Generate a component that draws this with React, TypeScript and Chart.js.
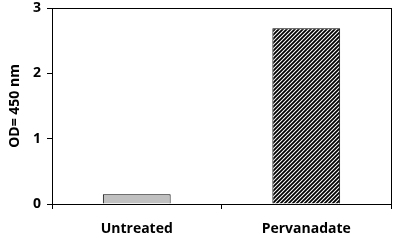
import React, { useEffect, useRef } from "react";
import { Chart, registerables } from "chart.js";

Chart.register(...registerables);

const categories = ["Untreated", "Pervanadate"];
const values = [0.15, 2.69];
const yTicks = [0, 1, 2, 3];

function makeHatch(): CanvasPattern | string {
  const c = document.createElement("canvas");
  c.width = 4;
  c.height = 4;
  const ctx = c.getContext("2d");
  if (!ctx) return "#000";
  ctx.fillStyle = "#fff";
  ctx.fillRect(0, 0, 4, 4);
  ctx.strokeStyle = "#000";
  ctx.lineWidth = 1.8;
  ctx.beginPath();
  ctx.moveTo(-1, 5);
  ctx.lineTo(5, -1);
  ctx.moveTo(-1, 1);
  ctx.lineTo(1, -1);
  ctx.moveTo(3, 5);
  ctx.lineTo(5, 3);
  ctx.stroke();
  const p = ctx.createPattern(c, "repeat");
  return p || "#000";
}

const frame = {
  id: "frame",
  afterDraw(chart: any) {
    const { ctx, chartArea } = chart;
    ctx.save();
    ctx.strokeStyle = "#000";
    ctx.lineWidth = 1;
    ctx.strokeRect(
      Math.round(chartArea.left) + 0.5,
      Math.round(chartArea.top) + 0.5,
      Math.round(chartArea.right - chartArea.left),
      Math.round(chartArea.bottom - chartArea.top)
    );
    ctx.restore();
  },
};

export default function App() {
  const ref = useRef<HTMLCanvasElement>(null);
  useEffect(() => {
    document.body.style.margin = "0";
    const hatch = makeHatch();
    const family = "'Open Sans', Lato, sans-serif";
    const font = { family, size: 14, weight: "bold" as const };
    const chart = new Chart(ref.current!, {
      type: "bar",
      data: {
        labels: categories,
        datasets: [
          {
            data: values,
            backgroundColor: ["#c0c0c0", hatch as any],
            borderColor: "#000",
            borderWidth: 1,
            barPercentage: 0.4,
            categoryPercentage: 1,
          },
        ],
      },
      options: {
        animation: false,
        responsive: false,
        maintainAspectRatio: false,
        layout: { padding: { top: 8, right: 9, left: 0, bottom: 0 } },
        plugins: { legend: { display: false }, tooltip: { enabled: false } },
        scales: {
          x: {
            offset: true,
            grid: { offset: true, drawOnChartArea: false, drawTicks: true, tickLength: 5, color: "#000" },
            border: { color: "#000", width: 1 },
            ticks: { color: "#000", font, padding: 12 },
            afterFit: (s: any) => {
              s.height = 38;
              s.paddingLeft = 0;
              s.paddingRight = 0;
            },
          },
          y: {
            min: 0,
            max: 3,
            afterBuildTicks: (s: any) => {
              s.ticks = yTicks.map((v) => ({ value: v }));
            },
            grid: { drawOnChartArea: false, drawTicks: true, tickLength: 5, color: "#000" },
            border: { color: "#000", width: 1 },
            ticks: { color: "#000", font, padding: 6 },
            title: {
              display: true,
              text: "OD= 450 nm",
              color: "#000",
              font: { family, size: 14, weight: "bold" },
              padding: { top: 7, bottom: 0 },
            },
            afterFit: (s: any) => {
              s.width = 52;
              s.paddingTop = 0;
              s.paddingBottom = 0;
            },
          },
        },
      },
      plugins: [frame],
    });
    return () => chart.destroy();
  }, []);
  return (
    <div style={{ width: 400, height: 242 }}>
      <canvas ref={ref} width={400} height={242} style={{ width: 400, height: 242, display: "block" }} />
    </div>
  );
}
